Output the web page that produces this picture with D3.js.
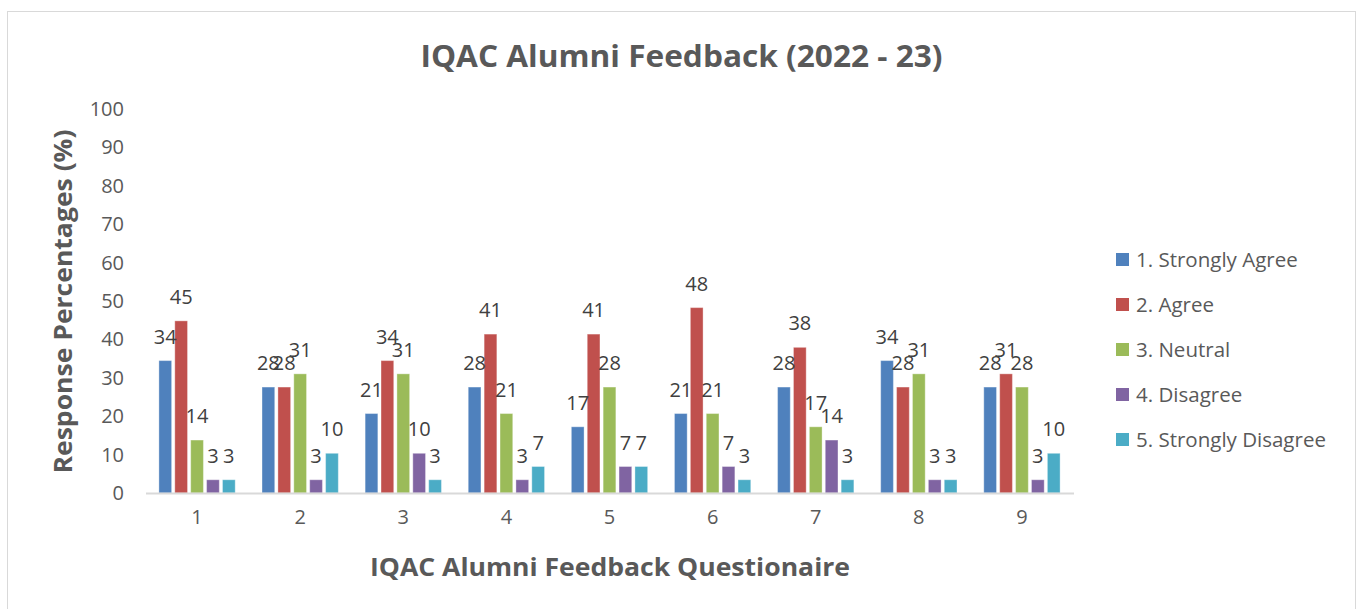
<!DOCTYPE html>
<html>
<head>
<meta charset="utf-8">
<script src="https://cdn.jsdelivr.net/npm/d3@7"></script>
<style>
  html, body { margin: 0; padding: 0; background: #fff; }
  svg { display: block; font-family: "Open Sans", "DejaVu Sans", sans-serif; }
</style>
</head>
<body>
<svg id="chart" width="1357" height="609"></svg>
<script>
const categories = ["1", "2", "3", "4", "5", "6", "7", "8", "9"];
const seriesNames = ["1. Strongly Agree", "2. Agree", "3. Neutral", "4. Disagree", "5. Strongly Disagree"];
const seriesColors = ["#4F81BD", "#C0504D", "#9BBB59", "#8064A2", "#4BACC6"];
const stronglyAgree    = [34.48, 27.59, 20.69, 27.59, 17.24, 20.69, 27.59, 34.48, 27.59];
const agree            = [44.83, 27.59, 34.48, 41.38, 41.38, 48.28, 37.93, 27.59, 31.03];
const neutral          = [13.79, 31.03, 31.03, 20.69, 27.59, 20.69, 17.24, 31.03, 27.59];
const disagree         = [3.45, 3.45, 10.34, 3.45, 6.90, 6.90, 13.79, 3.45, 3.45];
const stronglyDisagree = [3.45, 10.34, 3.45, 6.90, 6.90, 3.45, 3.45, 3.45, 10.34];
const yTicks = [0, 10, 20, 30, 40, 50, 60, 70, 80, 90, 100];
const titleText = "IQAC Alumni Feedback (2022 - 23)";
const xTitleText = "IQAC Alumni Feedback Questionaire";
const yTitleText = "Response Percentages (%)";

const seriesValues = [stronglyAgree, agree, neutral, disagree, stronglyDisagree];
const svg = d3.select("#chart");

// chart border
svg.append("rect").attr("x", 7.5).attr("y", 11.5).attr("width", 1348).attr("height", 610)
  .attr("fill", "#fff").attr("stroke", "#D9D9D9").attr("stroke-width", 1);

const x0 = d3.scaleBand().domain(categories).range([145.5, 1073.5]).paddingInner(0.26).paddingOuter(0.13);
const x1 = d3.scaleBand().domain(d3.range(seriesNames.length)).range([0, x0.bandwidth()]).paddingInner(0.2).paddingOuter(0);
const y = d3.scaleLinear().domain([0, 100]).range([493, 109]);

// y axis
const yAxis = svg.append("g").attr("transform", "translate(134,0)")
  .call(d3.axisLeft(y).tickValues(yTicks).tickSize(0).tickPadding(10));
yAxis.select(".domain").remove();
yAxis.selectAll("text").attr("font-size", 20).attr("fill", "#595959")
  .attr("font-family", "'Open Sans', sans-serif");

// bars
const groups = svg.append("g").selectAll("g").data(categories).join("g")
  .attr("transform", d => `translate(${x0(d)},0)`);

groups.each(function(cat, ci) {
  const g = d3.select(this);
  seriesValues.forEach((vals, si) => {
    const v = vals[ci];
    g.append("rect")
      .attr("x", x1(si)).attr("y", y(v))
      .attr("width", x1.bandwidth()).attr("height", y(0) - y(v))
      .attr("fill", seriesColors[si])
      .attr("stroke", "rgba(255,255,255,0.35)").attr("stroke-width", 1);
  });
  seriesValues.forEach((vals, si) => {
    const v = vals[ci];
    g.append("text")
      .attr("x", x1(si) + x1.bandwidth() / 2).attr("y", y(v) - 17)
      .attr("text-anchor", "middle").attr("font-size", 20).attr("fill", "#404040")
      .text(d3.format(".0f")(v));
  });
});

// x axis
const xAxis = svg.append("g").attr("transform", "translate(0,493)")
  .call(d3.axisBottom(x0).tickSize(0).tickPadding(17));
xAxis.select(".domain").attr("stroke", "#D9D9D9").attr("stroke-width", 2);
xAxis.selectAll("text").attr("font-size", 20).attr("fill", "#595959")
  .attr("font-family", "'Open Sans', sans-serif");

// titles
svg.append("text").attr("x", 681.5).attr("y", 67).attr("text-anchor", "middle")
  .attr("font-size", 31).attr("font-weight", "bold").attr("fill", "#595959")
  .attr("textLength", 522).attr("lengthAdjust", "spacingAndGlyphs")
  .text(titleText);

svg.append("text").attr("x", 610).attr("y", 576).attr("text-anchor", "middle")
  .attr("font-size", 25).attr("font-weight", "bold").attr("fill", "#595959")
  .attr("textLength", 480).attr("lengthAdjust", "spacingAndGlyphs")
  .text(xTitleText);

svg.append("text").attr("transform", "translate(72,301.5) rotate(-90)").attr("text-anchor", "middle")
  .attr("font-size", 25).attr("font-weight", "bold").attr("fill", "#595959")
  .attr("textLength", 344).attr("lengthAdjust", "spacingAndGlyphs")
  .text(yTitleText);

// legend
const legend = svg.append("g").selectAll("g").data(seriesNames).join("g")
  .attr("transform", (d, i) => `translate(1116,${260 + i * 45})`);
legend.append("rect").attr("x", 0).attr("y", -7).attr("width", 13).attr("height", 13)
  .attr("fill", (d, i) => seriesColors[i]);
legend.append("text").attr("x", 20).attr("y", 7).attr("font-size", 20.5).attr("fill", "#595959")
  .text(d => d);
</script>
</body>
</html>
